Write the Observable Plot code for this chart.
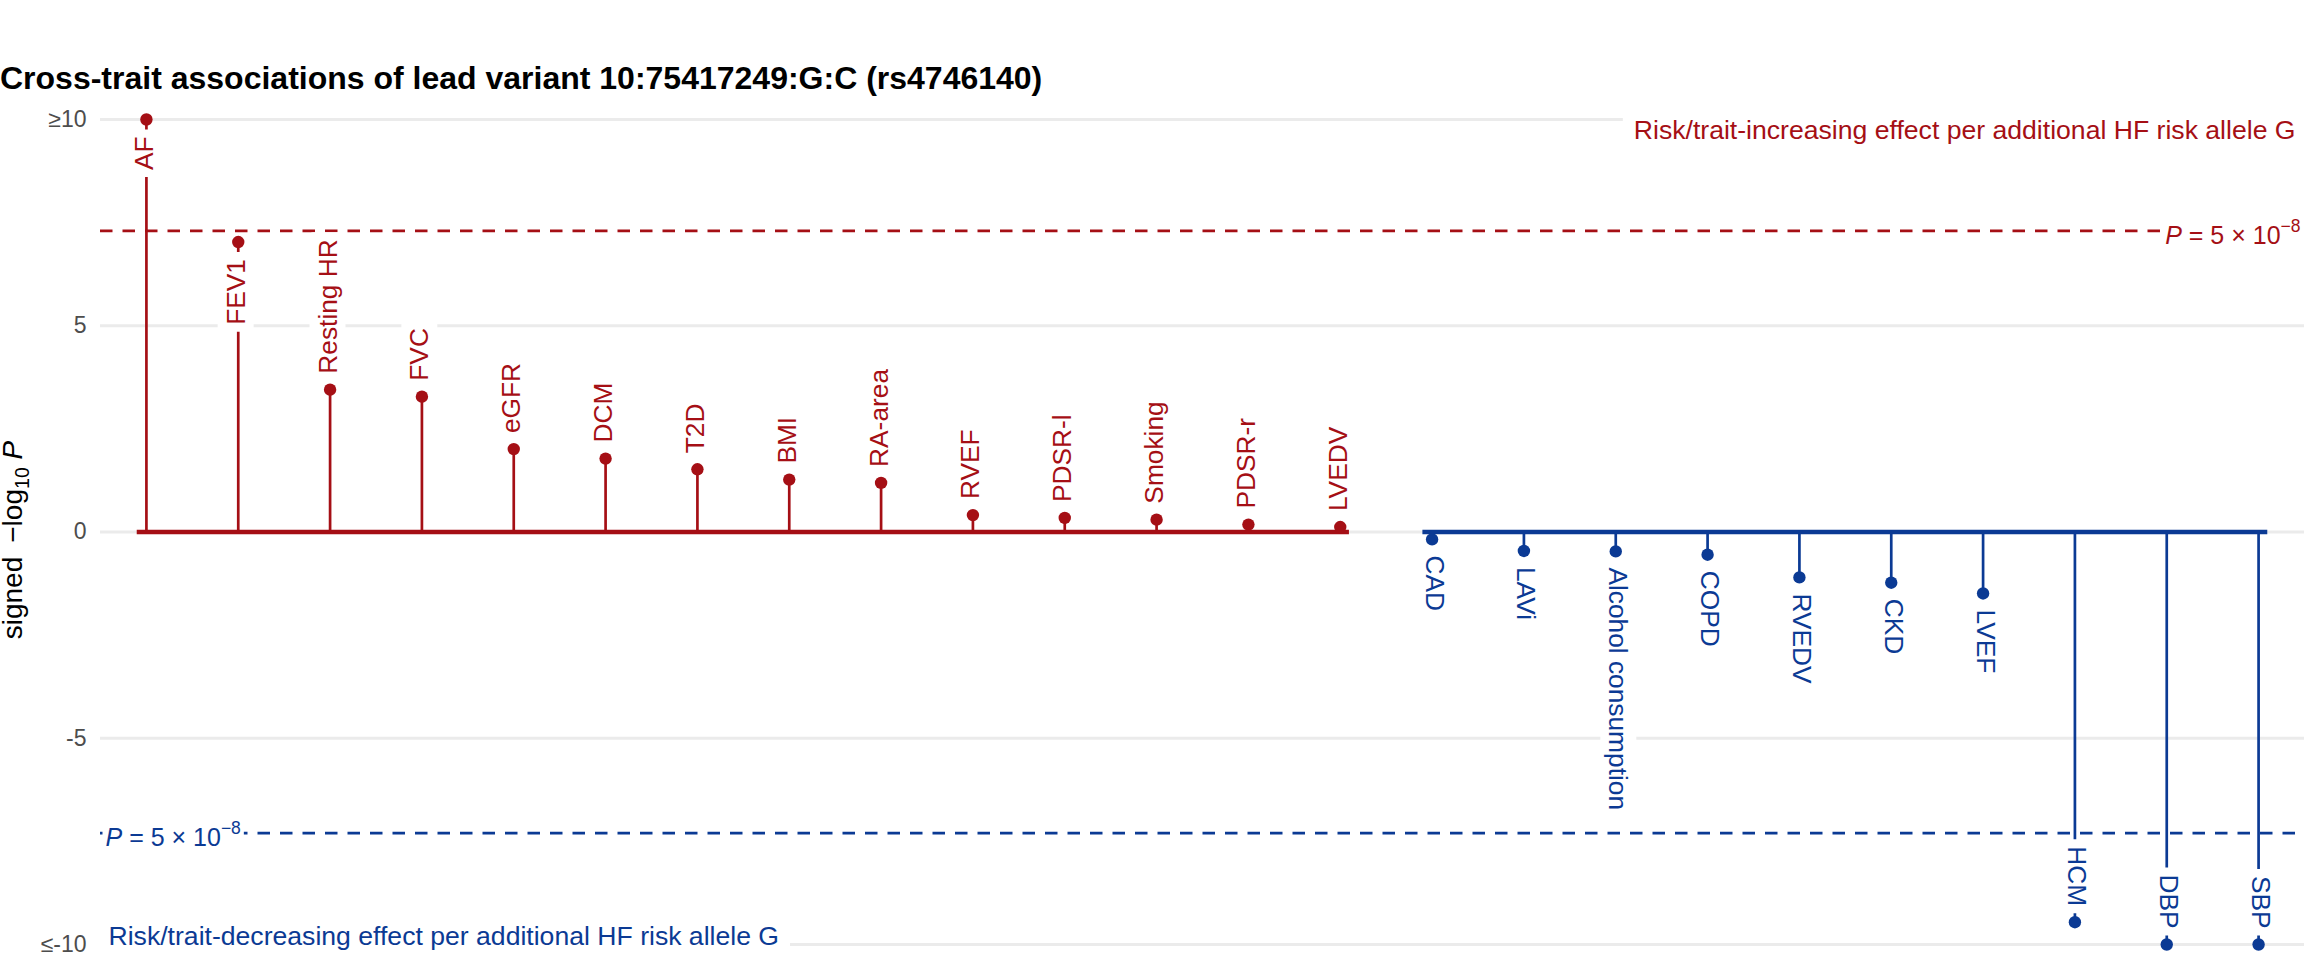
<!DOCTYPE html>
<html><head><meta charset="utf-8">
<script src="https://cdn.jsdelivr.net/npm/d3@7"></script>
<script src="https://cdn.jsdelivr.net/npm/@observablehq/plot@0.6"></script>
<style>
html,body{margin:0;padding:0;background:#fff;}
#title{font-family:"Liberation Sans",Arial,sans-serif;font-weight:bold;font-size:32px;line-height:32px;height:100px;box-sizing:border-box;padding-top:62px;padding-left:0;white-space:nowrap;color:#000;}
#chart svg{display:block;}
</style></head>
<body>
<div id="title"></div>
<div id="chart"></div>
<script>
const titleText = "Cross-trait associations of lead variant 10:75417249:G:C (rs4746140)";
const traits = ["AF","FEV1","Resting HR","FVC","eGFR","DCM","T2D","BMI","RA-area","RVEF","PDSR-l","Smoking","PDSR-r","LVEDV",
                "CAD","LAVi","Alcohol consumption","COPD","RVEDV","CKD","LVEF","HCM","DBP","SBP"];
const signedLogP = [10, 7.03, 3.45, 3.28, 2.01, 1.78, 1.52, 1.27, 1.19, 0.41, 0.34, 0.30, 0.18, 0.12,
                    -0.18, -0.46, -0.47, -0.55, -1.10, -1.23, -1.49, -9.46, -10, -10];
const yTicks = [-10, -5, 0, 5, 10];
const yTickLabels = ["≤-10", "-5", "0", "5", "≥10"];
const gwasP = 5e-8;
const upText = "Risk/trait-increasing effect per additional HF risk allele G";
const downText = "Risk/trait-decreasing effect per additional HF risk allele G";
const yLabelParts = [["signed\u2002\u2212log", ""], ["10", "sub"], [" ", ""], ["P", "it"]];
const pLabelParts = [["P", "it"], [" = 5 \u00D7 10", ""], ["\u22128", "sup"]];

const RED = "#A50F15", BLUE = "#0B3A94";
const FONT = '"Liberation Sans", Arial, Helvetica, sans-serif';
document.getElementById("title").textContent = titleText;

const yLabel = yLabelParts.map(p => p[0]).join("");
const pLabel = pLabelParts.map(p => p[0]).join("");
const thr = -Math.log10(gwasP);
const data = traits.map((t, i) => ({trait: t, i, v: signedLogP[i], up: signedLogP[i] > 0, inside: Math.abs(signedLogP[i]) > 5}));
const upI = data.filter(d => d.up).map(d => d.i);
const dnI = data.filter(d => !d.up).map(d => d.i);
const baselines = [
  {x1: d3.min(upI) - 0.1, x2: d3.max(upI) + 0.1, c: RED},
  {x1: d3.min(dnI) - 0.1, x2: d3.max(dnI) + 0.1, c: BLUE}
];
const col = d => d.up ? RED : BLUE;
const LF = 26.3;
const AF = 26.6;

const plot = Plot.plot({
  width: 2304, height: 860,
  marginLeft: 100, marginRight: 0, marginTop: 19, marginBottom: 16,
  style: {fontFamily: FONT, background: "#fff", overflow: "visible"},
  x: {type: "linear", domain: [-0.5, traits.length - 0.5], axis: null},
  y: {domain: [-10, 10], axis: null},
  marks: [
    Plot.ruleY(yTicks, {stroke: "#EBEBEB", strokeWidth: 3}),
    Plot.ruleY([thr], {stroke: RED, strokeWidth: 2.8, strokeDasharray: "12.5,10"}),
    Plot.ruleY([-thr], {stroke: BLUE, strokeWidth: 2.8, strokeDasharray: "12.5,10"}),
    Plot.ruleX(data, {x: "i", y1: 0, y2: "v", stroke: col, strokeWidth: 2.7}),
    Plot.ruleY(baselines, {y: 0, x1: "x1", x2: "x2", stroke: "c", strokeWidth: 4.6}),
    Plot.dot(data, {x: "i", y: "v", r: 6.2, fill: col, stroke: null}),
    Plot.text(data.filter(d => d.up && !d.inside), {x: "i", y: "v", text: "trait", rotate: -90, textAnchor: "start", dy: -16, dx: -2, fill: RED, fontSize: LF}),
    Plot.text(data.filter(d => d.up && d.inside), {x: "i", y: "v", text: "trait", rotate: -90, textAnchor: "end", dy: 17, dx: -2, fill: RED, fontSize: LF}),
    Plot.text(data.filter(d => !d.up && !d.inside), {x: "i", y: "v", text: "trait", rotate: 90, textAnchor: "start", dy: 16, dx: 2, fill: BLUE, fontSize: LF}),
    Plot.text(data.filter(d => !d.up && d.inside), {x: "i", y: "v", text: "trait", rotate: 90, textAnchor: "end", dy: -16, dx: 2, fill: BLUE, fontSize: LF}),
    Plot.text([upText], {text: d => d, y: 10, frameAnchor: "right", textAnchor: "end", lineAnchor: "top", dx: -9, dy: 1, fill: RED, fontSize: AF}),
    Plot.text([downText], {text: d => d, y: -10, frameAnchor: "left", textAnchor: "start", lineAnchor: "bottom", dx: 8, dy: 0, fill: BLUE, fontSize: AF}),
    Plot.text([pLabel], {text: d => d, y: thr, frameAnchor: "right", textAnchor: "end", dx: -4, dy: 5, fill: RED, fontSize: 25}),
    Plot.text([pLabel], {text: d => d, y: -thr, frameAnchor: "left", textAnchor: "start", dx: 5, dy: 5, fill: BLUE, fontSize: 25}),
    Plot.axisY(yTicks, {tickFormat: d => yTickLabels[yTicks.indexOf(d)], tickSize: 0, tickPadding: 14, fontSize: 23, fill: "#4D4D4D", label: null}),
    Plot.text([yLabel], {text: d => d, frameAnchor: "left", dx: -78.5, dy: 8, rotate: -90, textAnchor: "middle", lineAnchor: "bottom", fontSize: 28, fill: "#000"})
  ]
});
document.getElementById("chart").append(plot);

const NS = "http://www.w3.org/2000/svg";
function rich(t, parts) {
  t.textContent = "";
  let shift = 0;
  for (const [s, kind] of parts) {
    const ts = document.createElementNS(NS, "tspan");
    ts.textContent = s;
    if (kind === "it") ts.setAttribute("font-style", "italic");
    if (kind === "sup" || kind === "sub") {
      ts.setAttribute("font-size", "70%");
      const d = kind === "sup" ? -0.7 : 0.35;
      ts.setAttribute("dy", d + "em");
      shift = d * 0.7;
    } else if (shift) {
      ts.setAttribute("dy", (-shift) + "em");
      shift = 0;
    }
    t.append(ts);
  }
}
function box(t, padX, padY, rx) {
  const b = t.getBBox();
  const r = document.createElementNS(NS, "rect");
  r.setAttribute("x", b.x - padX);
  r.setAttribute("y", b.y - padY);
  r.setAttribute("width", b.width + 2 * padX);
  r.setAttribute("height", b.height + 2 * padY);
  r.setAttribute("rx", rx);
  r.setAttribute("fill", "#ffffff");
  r.setAttribute("stroke", "none");
  const tr = t.getAttribute("transform");
  if (tr) r.setAttribute("transform", tr);
  t.parentNode.insertBefore(r, t);
}
const traitSet = new Set(traits);
plot.querySelectorAll("text").forEach(t => {
  const s = t.textContent;
  if (traitSet.has(s)) box(t, 7, 3, 4);
  else if (s === upText || s === downText) box(t, 11, 4, 4);
  else if (s === pLabel) { rich(t, pLabelParts); box(t, 3, 2, 3); }
  else if (s === yLabel) { rich(t, yLabelParts); }
});
</script>
</body></html>
